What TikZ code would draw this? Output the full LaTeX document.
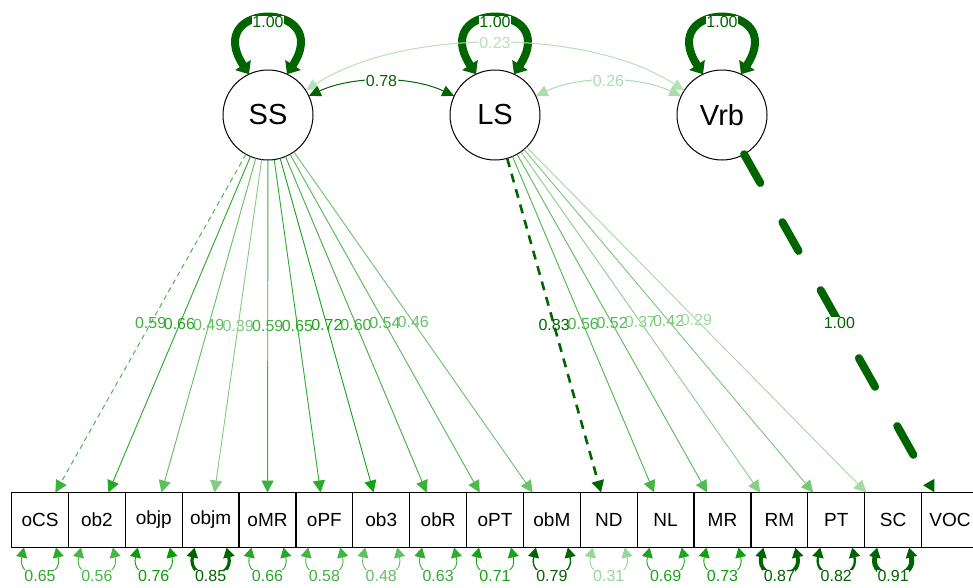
\documentclass[tikz,border=0pt]{standalone}
\usepackage{fontspec}
\setmainfont{Liberation Sans}
\usetikzlibrary{arrows.meta}
\definecolor{semg}{RGB}{0,153,0}
\definecolor{semd}{RGB}{0,100,0}

\begin{document}
\begin{tikzpicture}[x=1pt,y=-1pt,
  lat/.style={circle, draw, line width=1pt, minimum size=90pt, inner sep=0pt, outer sep=0pt, font=\fontsize{29}{29}\selectfont},
  obs/.style={rectangle, draw, line width=1.2pt, minimum width=56.9pt, minimum height=55pt, inner sep=0pt, outer sep=0pt, font=\fontsize{19}{19}\selectfont},
  lab/.style={font=\fontsize{16}{16}\selectfont, inner sep=0.5pt},
  wlab/.style={lab, fill=white},
  load/.style={line width=0.9pt, -{Triangle[length=12pt,width=12pt]}},
  cov/.style={line width=1pt, {Triangle[length=12pt,width=11pt]}-{Triangle[length=12pt,width=11pt]}},
  res/.style={{Triangle[length=10pt,width=11pt]}-{Triangle[length=10pt,width=11pt]}},
  vloop/.style={semd, line width=8pt, {Triangle[length=11pt,width=18pt]}-{Triangle[length=11pt,width=18pt]}}
]
\useasboundingbox (0,0) rectangle (973,587);

% latent variables
\node[lat] (SS)  at (268,115) {SS};
\node[lat] (LS)  at (495,115) {LS};
\node[lat] (Vrb) at (722,115) {Vrb};

% observed variables
\foreach \n [count=\i] in {oCS,ob2,objp,objm,oMR,oPF,ob3,obR,oPT,obM,ND,NL,MR,RM,PT,SC,VOC}
  \node[obs] (\n) at ({40+56.875*(\i-1)},520) {\n};

% variances of latents
\foreach \n in {SS,LS,Vrb}
  \draw[vloop] (\n.115) .. controls +(-48,-74) and +(48,-74) .. (\n.65) node[pos=0.5, wlab, yshift=-3pt]{1.00};

% covariances
\draw[cov, color=semg!29!white] (SS) to[bend left=33, looseness=0.78] node[wlab]{0.23} (Vrb);
\draw[cov, color=semd] (SS) to[bend left=25, looseness=0.85] node[wlab]{0.78} (LS);
\draw[cov, color=semg!33!white] (LS) to[bend left=25, looseness=0.85] node[wlab]{0.26} (Vrb);

% loadings
\draw[load, color=semg!76!white, dash pattern=on 5pt off 4pt] (SS) -- (oCS) node[midway, lab]{0.59};
\foreach \n/\v/\c in {ob2/0.66/semg!85!white, objp/0.49/semg!63!white, objm/0.39/semg!50!white,
    oMR/0.59/semg!76!white, oPF/0.65/semg!83!white, ob3/0.72/semg!92!white,
    obR/0.60/semg!77!white, oPT/0.54/semg!69!white, obM/0.46/semg!59!white}
  \draw[load, color=\c] (SS) -- (\n) node[midway, lab]{\v};
\draw[load, color=semd, line width=2.6pt, dash pattern=on 9pt off 7pt] (LS) -- (ND) node[midway, lab]{0.83};
\foreach \n/\v/\c in {NL/0.56/semg!72!white, MR/0.52/semg!67!white, RM/0.37/semg!47!white,
    PT/0.42/semg!54!white, SC/0.29/semg!37!white}
  \draw[load, color=\c] (LS) -- (\n) node[midway, lab]{\v};
\draw[color=semd, line width=8pt, line cap=round, dash pattern=on 33pt off 45pt,
  -{Triangle[length=12pt,width=12pt]}] (Vrb) -- (VOC) node[midway, wlab]{1.00};

% residuals
\foreach \n/\v/\c/\w in {oCS/0.65/semg!83!white/0.9, ob2/0.56/semg!72!white/0.9, objp/0.76/semg!97!white/0.9,
    objm/0.85/semd/3.2, oMR/0.66/semg!85!white/0.9, oPF/0.58/semg!74!white/0.9,
    ob3/0.48/semg!62!white/0.9, obR/0.63/semg!81!white/0.9, oPT/0.71/semg!91!white/0.9,
    obM/0.79/semd/1.4, ND/0.31/semg!40!white/0.9, NL/0.69/semg!88!white/0.9,
    MR/0.73/semg!94!white/0.9, RM/0.87/semd/3.9, PT/0.82/semd/2.3, SC/0.91/semd/5}
  \draw[res, color=\c, line width=\w pt] ([xshift=-16pt]\n.south) .. controls +(-8,34) and +(8,34) .. ([xshift=16pt]\n.south)
    node[pos=0.5, wlab, yshift=-3pt]{\v};
\end{tikzpicture}
\end{document}
